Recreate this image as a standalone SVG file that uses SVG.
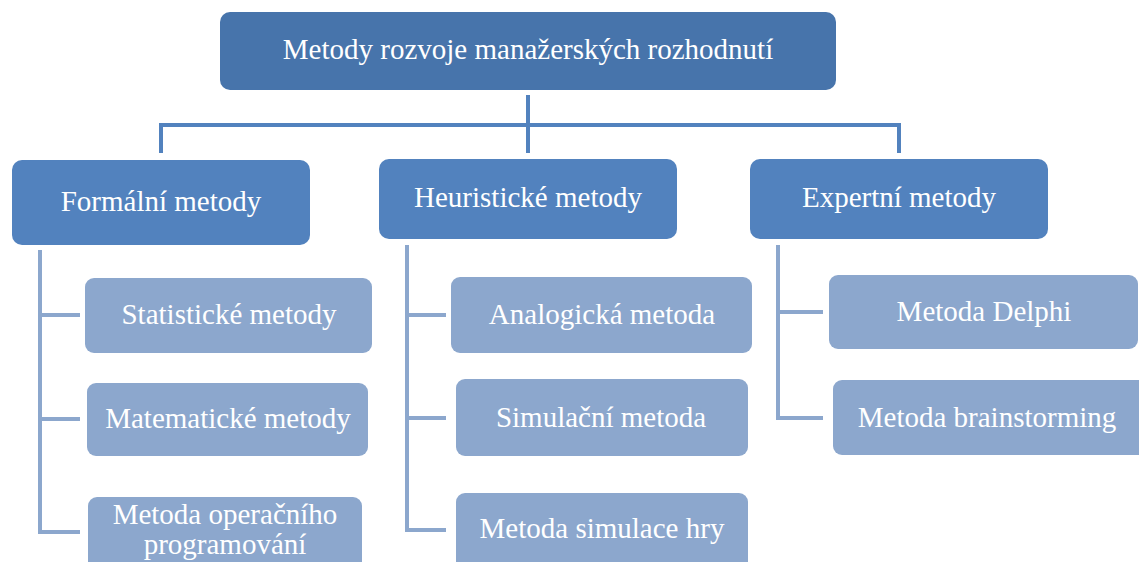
<svg xmlns="http://www.w3.org/2000/svg" width="1139" height="562" viewBox="0 0 1139 562">
  <style>
    .root rect { fill: #4774ab; }
    .cat rect { fill: #5282be; }
    .leaf rect { fill: #8ca7cd; }
    text { font-family: "Liberation Serif", "Times New Roman", serif; font-size: 29px; fill: #ffffff; text-anchor: middle; }
    .main { fill: none; stroke: #5282be; stroke-width: 4; }
    .sub { fill: none; stroke: #8ca7cd; stroke-width: 4; }
  </style>
  <rect width="1139" height="562" fill="#ffffff"/>

  <!-- connectors -->
  <g id="connectors">
    <path class="main" d="M528 95 V125 M161 153 V125 H899 V153 M528 125 V153"/>
    <path class="sub" d="M40 250 V532 H80 M40 315 H80 M40 419 H80"/>
    <path class="sub" d="M407 245 V530 H446 M407 315 H446 M407 418 H446"/>
    <path class="sub" d="M778 245 V418 H823 M778 312 H823"/>
  </g>

  <!-- root -->
  <g id="root" class="root">
    <rect x="220" y="12" width="616" height="78" rx="10"/>
    <text x="528" y="59">Metody rozvoje manažerských rozhodnutí</text>
  </g>

  <!-- categories -->
  <g id="formalni" class="cat">
    <rect x="12" y="160" width="298" height="85" rx="10"/>
    <text x="161" y="211">Formální metody</text>
  </g>
  <g id="heuristicke" class="cat">
    <rect x="379" y="159" width="298" height="80" rx="10"/>
    <text x="528" y="207">Heuristické metody</text>
  </g>
  <g id="expertni" class="cat">
    <rect x="750" y="159" width="298" height="80" rx="10"/>
    <text x="899" y="207">Expertní metody</text>
  </g>

  <!-- formal methods -->
  <g id="statisticke" class="leaf">
    <rect x="85" y="278" width="287" height="75" rx="9"/>
    <text x="229" y="324">Statistické metody</text>
  </g>
  <g id="matematicke" class="leaf">
    <rect x="87" y="383" width="281" height="73" rx="9"/>
    <text x="228" y="428">Matematické metody</text>
  </g>
  <g id="operacni" class="leaf">
    <rect x="88" y="497" width="274" height="80" rx="9"/>
    <text x="225" y="524" font-size="28">Metoda operačního</text>
    <text x="225" y="554" font-size="28">programování</text>
  </g>

  <!-- heuristic methods -->
  <g id="analogicka" class="leaf">
    <rect x="451" y="277" width="301" height="76" rx="9"/>
    <text x="602" y="324">Analogická metoda</text>
  </g>
  <g id="simulacni" class="leaf">
    <rect x="456" y="379" width="292" height="77" rx="9"/>
    <text x="601" y="427">Simulační metoda</text>
  </g>
  <g id="simulace-hry" class="leaf">
    <rect x="456" y="493" width="292" height="80" rx="9"/>
    <text x="602" y="538">Metoda simulace hry</text>
  </g>

  <!-- expert methods -->
  <g id="delphi" class="leaf">
    <rect x="829" y="275" width="309" height="74" rx="9"/>
    <text x="984" y="321">Metoda Delphi</text>
  </g>
  <g id="brainstorming" class="leaf">
    <rect x="833" y="380" width="316" height="75" rx="9"/>
    <text x="987" y="427">Metoda brainstorming</text>
  </g>
</svg>
